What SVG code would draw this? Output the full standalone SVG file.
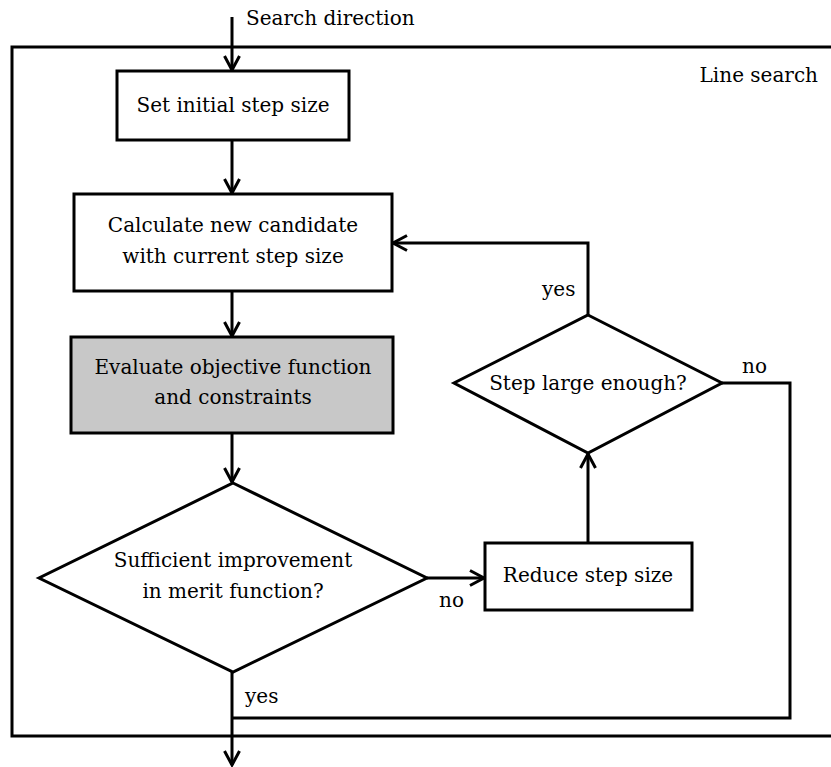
<svg xmlns="http://www.w3.org/2000/svg" width="831" height="767" viewBox="0 0 831 767">
  <style>
    .box { fill: #ffffff; stroke: #000000; stroke-width: 3; }
    .grey { fill: #c8c8c8; }
    .frame { fill: none; stroke: #000000; stroke-width: 3; }
    .wire { fill: none; stroke: #000000; stroke-width: 3; }
    .arrow { marker-end: url(#head); }
    text { font-family: "DejaVu Serif", "Liberation Serif", serif; font-size: 20px; fill: #000000; }
    .c { text-anchor: middle; }
    .e { text-anchor: end; }
  </style>
  <defs>
    <marker id="head" markerUnits="userSpaceOnUse" markerWidth="20" markerHeight="20" viewBox="-16 -10 20 20" refX="0" refY="0" orient="auto">
      <path d="M-14,-7.5 L0,0 L-14,7.5" fill="none" stroke="#000000" stroke-width="3"/>
    </marker>
  </defs>

  <!-- Line search frame (open on the right) -->
  <g id="frame">
    <path class="frame" d="M831,47 H12 V736 H831"/>
    <text class="e" x="818" y="82">Line search</text>
  </g>

  <!-- Connectors -->
  <g id="connectors">
    <path class="wire arrow" d="M232,17 V70"/>
    <path class="wire arrow" d="M232,140 V193"/>
    <path class="wire arrow" d="M232,291 V336"/>
    <path class="wire arrow" d="M232,433 V482"/>
    <path class="wire arrow" d="M427,578 H484"/>
    <path class="wire arrow" d="M588,543 V454"/>
    <path class="wire arrow" d="M588,315 V243 H393"/>
    <path class="wire" d="M722,383 H790 V718 H232"/>
    <path class="wire arrow" d="M232,672 V765"/>
    <text x="246" y="25">Search direction</text>
    <text x="542" y="296">yes</text>
    <text x="742" y="373">no</text>
    <text x="439" y="607">no</text>
    <text x="245" y="703">yes</text>
  </g>

  <g id="set-initial-step">
    <rect class="box" x="117" y="71" width="232" height="69"/>
    <text class="c" x="233" y="112">Set initial step size</text>
  </g>

  <g id="calculate-candidate">
    <rect class="box" x="74" y="194" width="318" height="97"/>
    <text class="c" x="233" y="232">Calculate new candidate</text>
    <text class="c" x="233" y="263">with current step size</text>
  </g>

  <g id="evaluate">
    <rect class="box grey" x="71" y="337" width="322" height="96"/>
    <text class="c" x="233" y="374">Evaluate objective function</text>
    <text class="c" x="233" y="404">and constraints</text>
  </g>

  <g id="sufficient-improvement">
    <polygon class="box" points="233,483 427,578 233,672 39,578"/>
    <text class="c" x="233" y="567">Sufficient improvement</text>
    <text class="c" x="233" y="598">in merit function?</text>
  </g>

  <g id="reduce-step">
    <rect class="box" x="485" y="543" width="207" height="67"/>
    <text class="c" x="588" y="582">Reduce step size</text>
  </g>

  <g id="step-large-enough">
    <polygon class="box" points="588,315 722,383 588,453 454,383"/>
    <text class="c" x="588" y="390">Step large enough?</text>
  </g>
</svg>
